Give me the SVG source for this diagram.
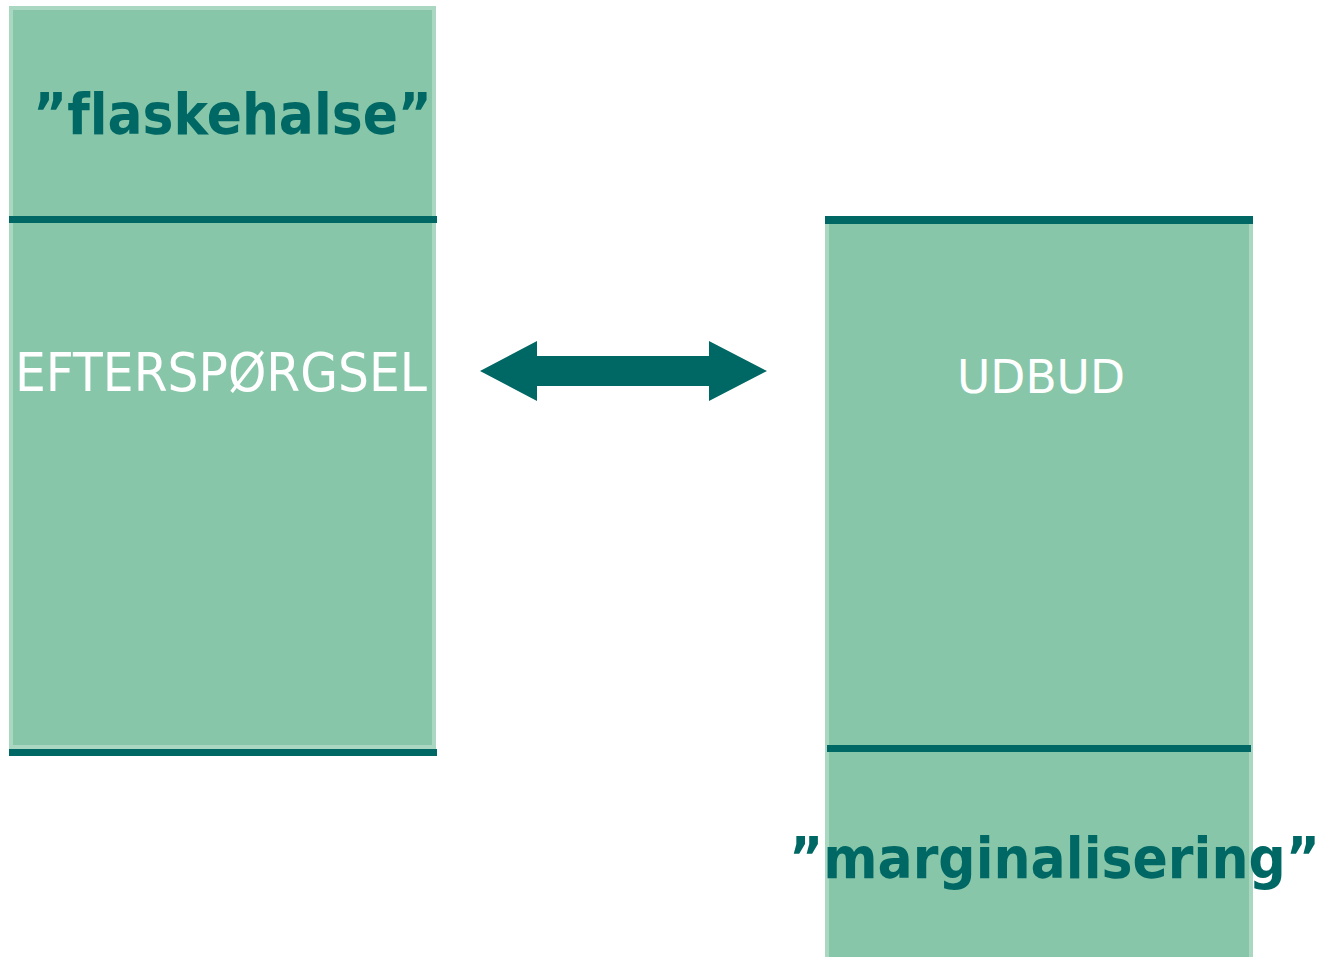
<svg xmlns="http://www.w3.org/2000/svg" width="1325" height="957" viewBox="0 0 1325 957">
<style>
.box{fill:#88c6a9;stroke:#a9d7c1;stroke-width:4}
.bar{fill:#006864}
.lbl{font-family:"DejaVu Sans","Liberation Sans",sans-serif;fill:#ffffff}
.tag{font-family:"DejaVu Sans","Liberation Sans",sans-serif;fill:#006864;font-size:57px;font-weight:bold;font-variant-ligatures:none}
</style>
<rect width="1325" height="957" fill="#ffffff"/>
<g id="efterspoergsel">
<rect class="box" x="11" y="8" width="423" height="739"/>
<rect class="bar" x="9" y="216" width="428" height="7"/>
<rect class="bar" x="9" y="749" width="428" height="7"/>
<text class="tag" x="33" y="134" textLength="399" lengthAdjust="spacingAndGlyphs">”flaskehalse”</text>
<text class="lbl" x="15" y="391" font-size="54" textLength="412" lengthAdjust="spacingAndGlyphs">EFTERSPØRGSEL</text>
</g>
<g id="udbud">
<rect class="box" x="827" y="221" width="424" height="742"/>
<rect class="bar" x="825" y="216" width="428" height="8"/>
<rect class="bar" x="827" y="745" width="424" height="7"/>
<text class="lbl" x="957" y="393" font-size="46" textLength="168" lengthAdjust="spacingAndGlyphs">UDBUD</text>
<text class="tag" x="789" y="878" textLength="531" lengthAdjust="spacingAndGlyphs">”marginalisering”</text>
</g>
<g id="connectors">
<polygon class="bar" points="480,371 537,341 537,356 709,356 709,341 767,371 709,401 709,386 537,386 537,401"/>
</g>
</svg>
